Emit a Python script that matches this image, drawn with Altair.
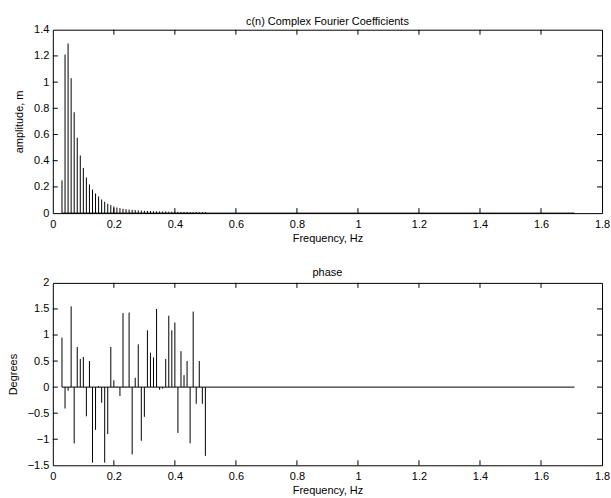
import altair as alt
import pandas as pd

FONT = "Liberation Sans"

freq = [0.03, 0.04, 0.05, 0.06, 0.07, 0.08, 0.09, 0.10, 0.11, 0.12,
        0.13, 0.14, 0.15, 0.16, 0.17, 0.18, 0.19, 0.20, 0.21, 0.22,
        0.23, 0.24, 0.25, 0.26, 0.27, 0.28, 0.29, 0.30, 0.31, 0.32,
        0.33, 0.34, 0.35, 0.36, 0.37, 0.38, 0.39, 0.40, 0.41, 0.42,
        0.43, 0.44, 0.45, 0.46, 0.47, 0.48, 0.49, 0.50]

amplitude = [0.25, 1.21, 1.295, 1.03, 0.77, 0.575, 0.44, 0.345, 0.272, 0.219,
             0.18, 0.15, 0.127, 0.104, 0.087, 0.071, 0.061, 0.051, 0.043, 0.038,
             0.033, 0.030, 0.027, 0.025, 0.023, 0.021, 0.019, 0.018, 0.017, 0.016,
             0.015, 0.014, 0.013, 0.012, 0.012, 0.011, 0.011, 0.010, 0.010, 0.009,
             0.009, 0.009, 0.008, 0.008, 0.008, 0.007, 0.007, 0.007]

phase = [0.95, -0.41, -0.07, 1.55, -1.08, 0.77, 0.54, 0.58, -0.56, 0.50,
         -1.45, -0.82, 0.02, -0.30, -1.45, -0.90, 0.77, 0.13, 0.01, -0.17,
         1.42, 0.01, 1.43, -1.29, 0.18, 0.82, -1.03, -0.57, 1.09, 0.66,
         0.57, 1.50, -0.05, -0.03, 0.54, 1.37, 1.09, 1.24, -0.88, 0.69,
         0.23, 0.50, -1.08, 1.45, -0.32, 0.50, -0.32, -1.32]

baseline_start = 0.03
baseline_end = 1.71

x_ticks = [0, 0.2, 0.4, 0.6, 0.8, 1.0, 1.2, 1.4, 1.6, 1.8]
amp_ticks = [0, 0.2, 0.4, 0.6, 0.8, 1.0, 1.2, 1.4]
phase_ticks = [-1.5, -1, -0.5, 0, 0.5, 1, 1.5, 2]

W = 551
H1 = 184
H2 = 183
TICK = 5


def panel(values, yticks, ydomain, ytitle, title, height, title_offset):
    df = pd.DataFrame({"f": freq, "v": values})
    xs = alt.Scale(domain=[0, 1.8], nice=False, zero=False)
    ys = alt.Scale(domain=ydomain, nice=False, zero=False)
    xaxis = alt.Axis(values=x_ticks, format="~g", title="Frequency, Hz",
                     ticks=False, tickSize=0, domain=False, grid=False,
                     labelPadding=5, titlePadding=3, labelFlush=False,
                     labelOverlap=False, tickCount=50)
    yaxis = alt.Axis(values=yticks, format="~g", title=ytitle,
                     ticks=False, tickSize=0, domain=False, grid=False,
                     labelPadding=4, titlePadding=9, labelFlush=False,
                     labelOverlap=False, tickCount=50)

    stems = alt.Chart(df).mark_rule(color="black", strokeWidth=1).encode(
        x=alt.X("f:Q", scale=xs, axis=xaxis),
        y=alt.Y("v:Q", scale=ys, axis=yaxis),
        y2=alt.datum(0),
    )
    base = alt.Chart(pd.DataFrame({"a": [baseline_start], "b": [baseline_end]})).mark_rule(
        color="black", strokeWidth=1).encode(
        x=alt.X("a:Q", axis=xaxis), x2="b:Q", y=alt.datum(0))

    xt = pd.DataFrame({"t": x_ticks[1:-1]})
    yt = pd.DataFrame({"t": yticks[1:-1]})
    xt_bot = alt.Chart(xt).mark_rule(color="black").encode(
        x=alt.X("t:Q", axis=xaxis), y=alt.value(height), y2=alt.value(height - TICK))
    xt_top = alt.Chart(xt).mark_rule(color="black").encode(
        x=alt.X("t:Q", axis=xaxis), y=alt.value(0), y2=alt.value(TICK))
    yt_left = alt.Chart(yt).mark_rule(color="black").encode(
        y=alt.Y("t:Q", axis=yaxis), x=alt.value(0), x2=alt.value(TICK))
    yt_right = alt.Chart(yt).mark_rule(color="black").encode(
        y=alt.Y("t:Q", axis=yaxis), x=alt.value(W), x2=alt.value(W - TICK))

    return alt.layer(stems, base, xt_bot, xt_top, yt_left, yt_right).properties(
        width=W, height=height,
        title=alt.TitleParams(title, fontSize=11, fontWeight="normal", font=FONT,
                              color="black", offset=title_offset, frame="group"),
    )


top = panel(amplitude, amp_ticks, [0, 1.4], "amplitude, m",
            "c(n) Complex Fourier Coefficients", H1, -3)
bottom = panel(phase, phase_ticks, [-1.5, 2], "Degrees", "phase", H2, -1)

chart = alt.vconcat(top, bottom, spacing=22).properties(
    padding={"left": 6, "top": 14, "right": 0, "bottom": 0},
    background="white",
).configure_view(stroke="black", strokeWidth=1).configure_axis(
    labelFont=FONT, labelFontSize=11, labelColor="black",
    titleFont=FONT, titleFontSize=11, titleColor="black", titleFontWeight="normal",
)

chart.save("out.html", embed_options={"renderer": "svg", "actions": False})
